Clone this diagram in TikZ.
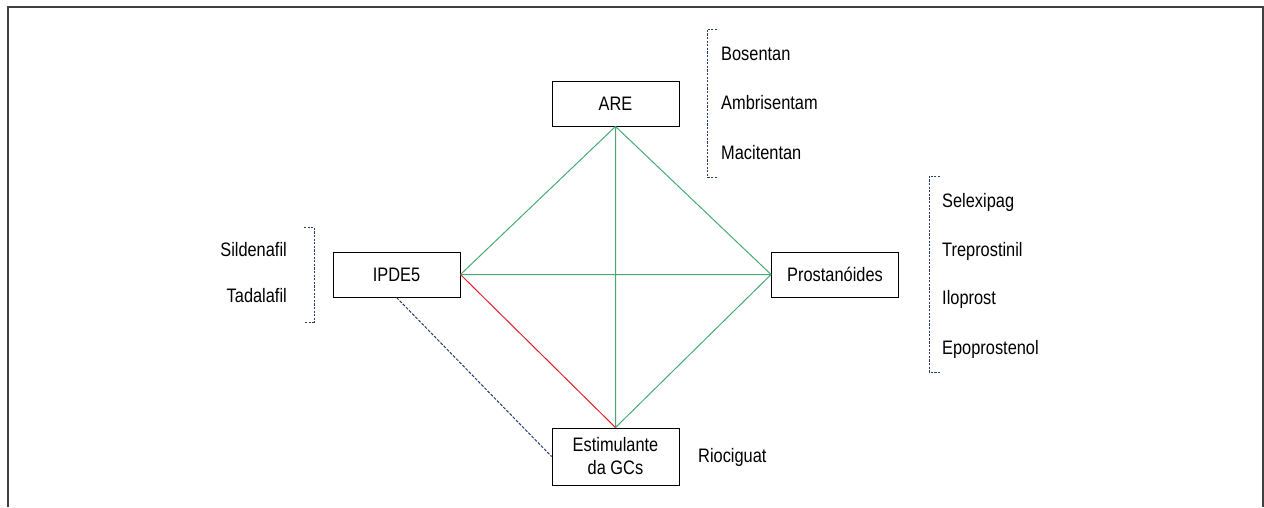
\documentclass[tikz,border=0pt]{standalone}
\usepackage{fontspec}
\setmainfont{Liberation Sans}[FakeStretch=0.84]
\definecolor{linkgreen}{RGB}{72,170,115}
\definecolor{linkred}{RGB}{228,30,40}
\definecolor{navy}{RGB}{40,60,105}
\begin{document}
\begin{tikzpicture}[x=1pt,y=-1pt]
    \tikzstyle{drug}=[rectangle,draw=black,fill=white,line width=0.9pt,
                      minimum width=127pt,minimum height=45pt,inner sep=2pt,
                      font=\fontsize{19.5}{23}\selectfont,align=center]
    \tikzstyle{item}=[inner sep=0pt,font=\fontsize{19.5}{22}\selectfont]
    \tikzstyle{brace}=[draw=navy,line width=0.9pt,dash pattern=on 2.2pt off 1.4pt]
    \useasboundingbox (0,0) rectangle (1264,507);
    \draw[draw=black!75, line width=1.4pt] (8,507) -- (8,7) -- (1263,7) -- (1263,507);

    \node[drug] (are)   at (615.5,103.5) {ARE};
    \node[drug] (ipde)  at (396.5,274.5) {IPDE5};
    \node[drug] (prost) at (835,274.5)   {Prostanóides};
    \node[drug,minimum height=57pt] (gcs) at (615.5,456.5) {Estimulante\\da GCs};

    \draw[draw=linkgreen, line width=1pt] (are.south) -- (ipde.east)
                                          (are.south) -- (prost.west)
                                          (are.south) -- (gcs.north)
                                          (ipde.east) -- (prost.west)
                                          (prost.west)-- (gcs.north);
    \draw[draw=linkred, line width=1pt] (ipde.east) -- (gcs.north);
    \draw[draw=navy, line width=1pt, dash pattern=on 3pt off 1.5pt] (ipde.south) -- (gcs.west);

    % lists
    \node[item,anchor=base west] (bos) at (721,60)  {Bosentan};
    \node[item,anchor=base west] (amb) at (721,109) {Ambrisentam};
    \node[item,anchor=base west] (mac) at (721,159) {Macitentan};
    \draw[brace] (717,29) -- (707,29) -- (707,177) -- (717,177);

    \node[item,anchor=base west] (sel) at (942,207) {Selexipag};
    \node[item,anchor=base west] (tre) at (942,256) {Treprostinil};
    \node[item,anchor=base west] (ilo) at (942,304) {Iloprost};
    \node[item,anchor=base west] (epo) at (942,354) {Epoprostenol};
    \draw[brace] (940,176) -- (929,176) -- (929,372) -- (940,372);

    \node[item,anchor=base east] (sil) at (287,256) {Sildenafil};
    \node[item,anchor=base east] (tad) at (287,302) {Tadalafil};
    \draw[brace] (304,227) -- (314,227) -- (314,322) -- (304,322);

    \node[item,anchor=base west] (rio) at (698,462) {Riociguat};
\end{tikzpicture}
\end{document}
